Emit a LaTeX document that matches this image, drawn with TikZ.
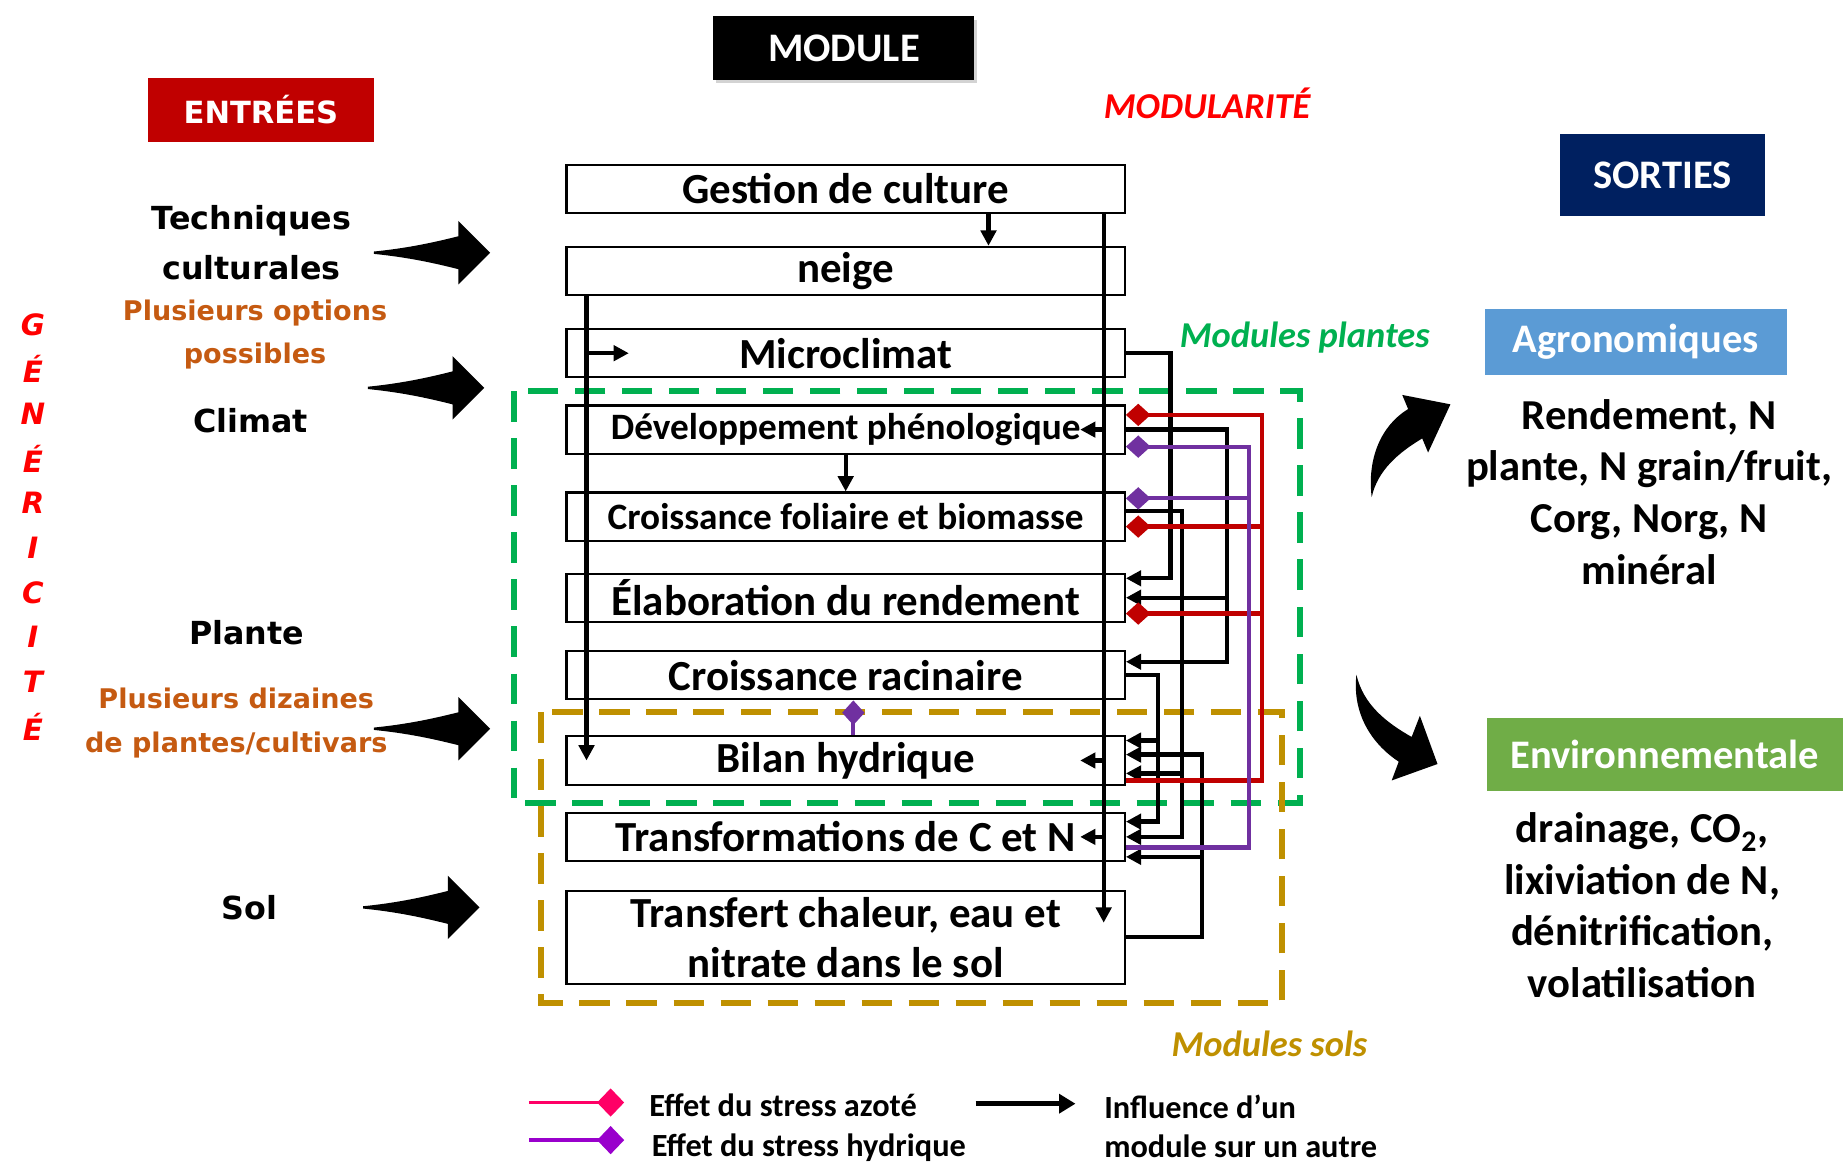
\documentclass[tikz,border=0pt]{standalone}
\usepackage{fontspec}
\setmainfont{Carlito}
\newfontfamily\wide{DejaVu Sans}
\usetikzlibrary{arrows.meta, shadows}
\definecolor{entred}{HTML}{C00000}
\definecolor{sortblue}{HTML}{002060}
\definecolor{agroblue}{HTML}{5B9BD5}
\definecolor{envgreen}{HTML}{70AD47}
\definecolor{optorange}{HTML}{C55A11}
\definecolor{plantgreen}{HTML}{00B050}
\definecolor{solgold}{HTML}{BF9000}
\definecolor{nred}{HTML}{C00000}
\definecolor{hpurple}{HTML}{7030A0}
\definecolor{legpink}{HTML}{FF0066}
\definecolor{legpurple}{HTML}{9900CC}
\tikzstyle{module} = [rectangle, draw=black, line width=1.8pt, fill=white, minimum width=475pt, minimum height=41pt, inner sep=0pt, align=center, font=\bfseries\fontsize{36.5}{43}\selectfont]
\tikzstyle{header} = [rectangle, inner sep=0pt, text=white, font=\bfseries\fontsize{34.5}{40}\selectfont]
\tikzstyle{intext} = [align=center, font=\wide\bfseries\fontsize{27}{43}\selectfont]
\tikzstyle{opttext} = [align=center, text=optorange, font=\wide\bfseries\fontsize{23}{37}\selectfont]
\tikzstyle{outtext} = [align=center, font=\bfseries\fontsize{36.3}{44}\selectfont]
\tikzstyle{gen} = [text=red, font=\wide\bfseries\itshape\fontsize{25}{25}\selectfont]
\tikzstyle{tag} = [font=\bfseries\itshape\fontsize{31}{31}\selectfont]
\tikzstyle{legtext} = [align=left, font=\bfseries\fontsize{27.5}{33}\selectfont]
\tikzstyle{conn} = [line width=3.6pt, -{Triangle[length=13pt,width=13pt]}]
\tikzstyle{nstress} = [line width=3.6pt, draw=nred, {Diamond[length=21pt,width=19pt]}-]
\tikzstyle{hstress} = [line width=3.6pt, draw=hpurple, {Diamond[length=21pt,width=19pt]}-]
\tikzstyle{zone} = [line width=5pt, dash pattern=on 26pt off 14pt]
\begin{document}
\begin{tikzpicture}[x=1pt, y=-1pt]
    \useasboundingbox (0,0) rectangle (1568,991);

    \node (module) [header, fill=black, minimum width=222pt, minimum height=54pt, drop shadow={opacity=0.35, shadow xshift=2pt, shadow yshift=-3pt}] at (718,41) {MODULE};
    \node (entrees) [header, fill=entred, minimum width=192pt, minimum height=55pt, font=\wide\bfseries\fontsize{26}{30}\selectfont] at (222,93.5) {ENTRÉES};
    \node (sorties) [header, fill=sortblue, minimum width=175pt, minimum height=70pt] at (1414.5,149) {SORTIES};
    \node (agro) [header, fill=agroblue, minimum width=257pt, minimum height=56pt] at (1391.5,291) {Agronomiques};
    \node (envir) [header, fill=envgreen, minimum width=303pt, minimum height=62pt] at (1416.5,642) {Environnementale};
    \node (modul) [tag, text=red] at (1027,88) {MODULARITÉ};
    \node (tplantes) [tag, text=plantgreen] at (1110,287) {Modules plantes};
    \node (tsols) [tag, text=solgold] at (1080,888) {Modules sols};

    \foreach \l [count=\i] in {G,É,N,É,R,I,C,I,T,É}
        \node (gen\i) [gen] at (28,238+38*\i) {\l};

    \node (techn) [intext] at (214,206.5) {Techniques\\culturales};
    \node (optpos) [opttext] at (217,284.5) {Plusieurs options\\possibles};
    \node (climat) [intext] at (213,358) {Climat};
    \node (plante) [intext] at (210,538) {Plante};
    \node (optpl) [opttext] at (201,615) {Plusieurs dizaines\\de plantes/cultivars};
    \node (sol) [intext] at (212,772) {Sol};
    \foreach \ax/\ay in {318/215, 313/330, 318/620, 309/772}
        \fill (\ax,\ay-1) .. controls (\ax+30,\ay-4) and (\ax+52,\ay-9) .. (\ax+72,\ay-14) -- (\ax+72,\ay-27) -- (\ax+99,\ay) -- (\ax+72,\ay+27) -- (\ax+72,\ay+14) .. controls (\ax+52,\ay+9) and (\ax+30,\ay+4) .. (\ax,\ay+1) -- cycle;

    \node (agrotxt) [outtext] at (1403,418.5) {Rendement, N\\plante, N grain/fruit,\\Corg, Norg, N\\minéral};
    \node (envtxt) [outtext] at (1397,770) {drainage, CO\textsubscript{2},\\lixiviation de N,\\dénitrification,\\volatilisation};
    \fill (1167,423) .. controls (1163,390) and (1175,362) .. (1198,348) -- (1193,336) -- (1234,344) -- (1215,385) -- (1210,373) .. controls (1190,385) and (1172,400) .. (1167,423) -- cycle;
    \fill (1154,574) .. controls (1150,610) and (1170,635) .. (1190,648) -- (1184,664) -- (1223,650) -- (1208,609) -- (1201,627) .. controls (1180,615) and (1160,600) .. (1154,574) -- cycle;

    \draw[zone, plantgreen] (437,333) rectangle (1106,683);
    \draw[zone, solgold] (460,606) rectangle (1091,853);

    \node (gestion) [module] at (719.5,160.5) {Gestion de culture};
    \node (neige) [module] at (719.5,230.5) {neige};
    \node (micro) [module] at (719.5,300.5) {Microclimat};
    \node (dev) [module, font=\bfseries\fontsize{31.7}{36}\selectfont] at (719.5,365.5) {Développement phénologique};
    \node (foliaire) [module, font=\bfseries\fontsize{31.7}{36}\selectfont] at (719.5,439.5) {Croissance foliaire et biomasse};
    \node (elab) [module] at (719.5,508.5) {Élaboration du rendement};
    \node (racin) [module] at (719.5,574.5) {Croissance racinaire};
    \node (bilan) [module] at (719.5,647) {Bilan hydrique};
    \node (transfo) [module] at (719.5,712) {Transformations de C et N};
    \node (transfert) [module, minimum height=79pt] at (719.5,797.5) {Transfert chaleur, eau et\\nitrate dans le sol};

    \coordinate (lbus) at (499,0);
    \coordinate (rbus) at (939,0);
    \coordinate (gbus) at (841,0);
    \coordinate (tr-end) at ([yshift=12.5pt]transfert.center);
    \draw[conn] (neige.south -| lbus) -- (bilan.center -| lbus);
    \draw[conn] (micro.center -| lbus) -- ++(36,0);
    \draw[conn] (gestion.south -| rbus) -- (tr-end -| rbus);
    \draw[conn] (dev.center -| rbus) -- ++(-20,0);
    \draw[conn] (bilan.center -| rbus) -- ++(-20,0);
    \draw[conn] (transfo.center -| rbus) -- ++(-20,0);
    \draw[conn] (gestion.south -| gbus) -- (neige.north -| gbus);
    \draw[conn] (dev.south) -- (foliaire.north);
    \draw[hstress] ([xshift=6.5pt]racin.south) -- ([xshift=6.5pt]bilan.north);

    \draw[conn] (micro.east) -- ++(38,0) |- ([yshift=16.5pt]elab.east);
    \draw[conn] (dev.east) -- ++(86,0) coordinate (busc) |- ([yshift=11.5pt]racin.east);
    \draw[conn] (busc |- elab.east) -- (elab.east);
    \draw[conn] ([yshift=4.5pt]foliaire.east) -- ++(48,0) coordinate (buse) |- (transfo.east);
    \coordinate (bil-e) at ([yshift=-11pt]bilan.east);
    \draw[conn] (buse |- bil-e) -- (bil-e);
    \draw[conn] (racin.east) -- ++(27,0) coordinate (busf) |- ([yshift=13pt]transfo.east);
    \coordinate (bil-f) at ([yshift=17pt]bilan.east);
    \draw[conn] (busf |- bil-f) -- (bil-f);
    \draw[conn] (transfert.east) -- ++(65,0) coordinate (busg) |- ([yshift=5pt]bilan.east);
    \coordinate (tra-g) at ([yshift=-17pt]transfo.east);
    \draw[conn] (busg |- tra-g) -- (tra-g);

    \draw[nstress] ([yshift=12.5pt]dev.east) -- ++(116,0) coordinate (busr) |- ([yshift=-17pt]bilan.east);
    \coordinate (fol-r) at ([yshift=-8.5pt]foliaire.east);
    \draw[nstress] (fol-r) -- (fol-r -| busr);
    \coordinate (ela-r) at ([yshift=-13.5pt]elab.east);
    \draw[nstress] (ela-r) -- (ela-r -| busr);
    \draw[hstress] ([yshift=-14.5pt]dev.east) -- ++(105,0) coordinate (busp) |- ([yshift=-9pt]transfo.east);
    \coordinate (fol-p) at ([yshift=15.5pt]foliaire.east);
    \draw[hstress] (fol-p) -- (fol-p -| busp);

    \coordinate (ln-a) at (450,938);
    \coordinate (ln-b) at (531,938);
    \coordinate (lh-a) at (450,970);
    \coordinate (lh-b) at (531,970);
    \coordinate (li-a) at (830,939);
    \coordinate (li-b) at (915,939);
    \draw[line width=3pt, legpink, -{Diamond[length=23pt,width=24pt]}] (ln-a) -- (ln-b);
    \draw[line width=3pt, legpurple, -{Diamond[length=23pt,width=24pt]}] (lh-a) -- (lh-b);
    \draw[line width=4.5pt, -{Triangle[length=14pt,width=16pt]}] (li-a) -- (li-b);
    \node (legn) [legtext, anchor=west] at (549,940) {Effet du stress azoté};
    \node (legh) [legtext, anchor=west] at (551,976) {Effet du stress hydrique};
    \node (legi) [legtext, anchor=west] at (936,958.5) {Influence d’un\\module sur un autre};
\end{tikzpicture}
\end{document}
